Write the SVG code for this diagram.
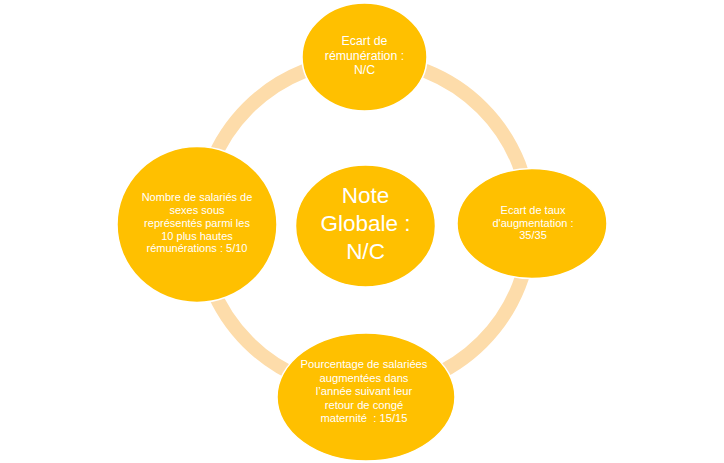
<svg xmlns="http://www.w3.org/2000/svg" width="724" height="463" viewBox="0 0 724 463">
<style>
.node{fill:#FFC000;stroke:#FFFFFF;stroke-width:1.5}
.ring{fill:none;stroke:#FDDCAA;stroke-width:14}
text{font-family:"Liberation Sans",Arial,sans-serif;fill:#FFFFFF;text-anchor:middle;white-space:pre}
.s{font-size:11px}
.m{font-size:12.3px}
.b{font-size:11.2px}
.l{font-size:22.5px}
</style>
<rect width="724" height="463" fill="#FFFFFF"/>
<g id="connectors">
<circle class="ring" cx="365" cy="225" r="165.5"/>
</g>
<g id="node-top">
<ellipse class="node" cx="364.5" cy="57" rx="62.5" ry="54"/>
<text class="m" x="364.5" y="45">Ecart de</text>
<text class="m" x="364.5" y="59.5">rémunération :</text>
<text class="m" x="364.5" y="74">N/C</text>
</g>
<g id="node-left">
<ellipse class="node" cx="197" cy="224.5" rx="80" ry="78"/>
<text class="s" x="197" y="201">Nombre de salariés de</text>
<text class="s" x="197" y="214">sexes sous</text>
<text class="s" x="197" y="226.8">représentés parmi les</text>
<text class="s" x="197" y="239.5">10 plus hautes</text>
<text class="s" x="197" y="252.3">rémunérations : 5/10</text>
</g>
<g id="node-right">
<ellipse class="node" cx="532" cy="223.5" rx="75" ry="55"/>
<text class="s" x="533" y="214">Ecart de taux</text>
<text class="s" x="533" y="226.7">d'augmentation :</text>
<text class="s" x="533" y="239.4">35/35</text>
</g>
<g id="node-bottom">
<ellipse class="node" cx="366" cy="397" rx="89" ry="64"/>
<text class="b" x="364" y="368">Pourcentage de salariées</text>
<text class="b" x="364" y="381.5">augmentées dans</text>
<text class="b" x="364" y="395">l’année suivant leur</text>
<text class="b" x="364" y="408.5">retour de congé</text>
<text class="b" x="364" y="422">maternité  : 15/15</text>
</g>
<g id="node-center">
<ellipse class="node" cx="365.5" cy="226" rx="70" ry="61"/>
<text class="l" x="365.5" y="203">Note</text>
<text class="l" x="365.5" y="231">Globale :</text>
<text class="l" x="365.5" y="259">N/C</text>
</g>
</svg>
